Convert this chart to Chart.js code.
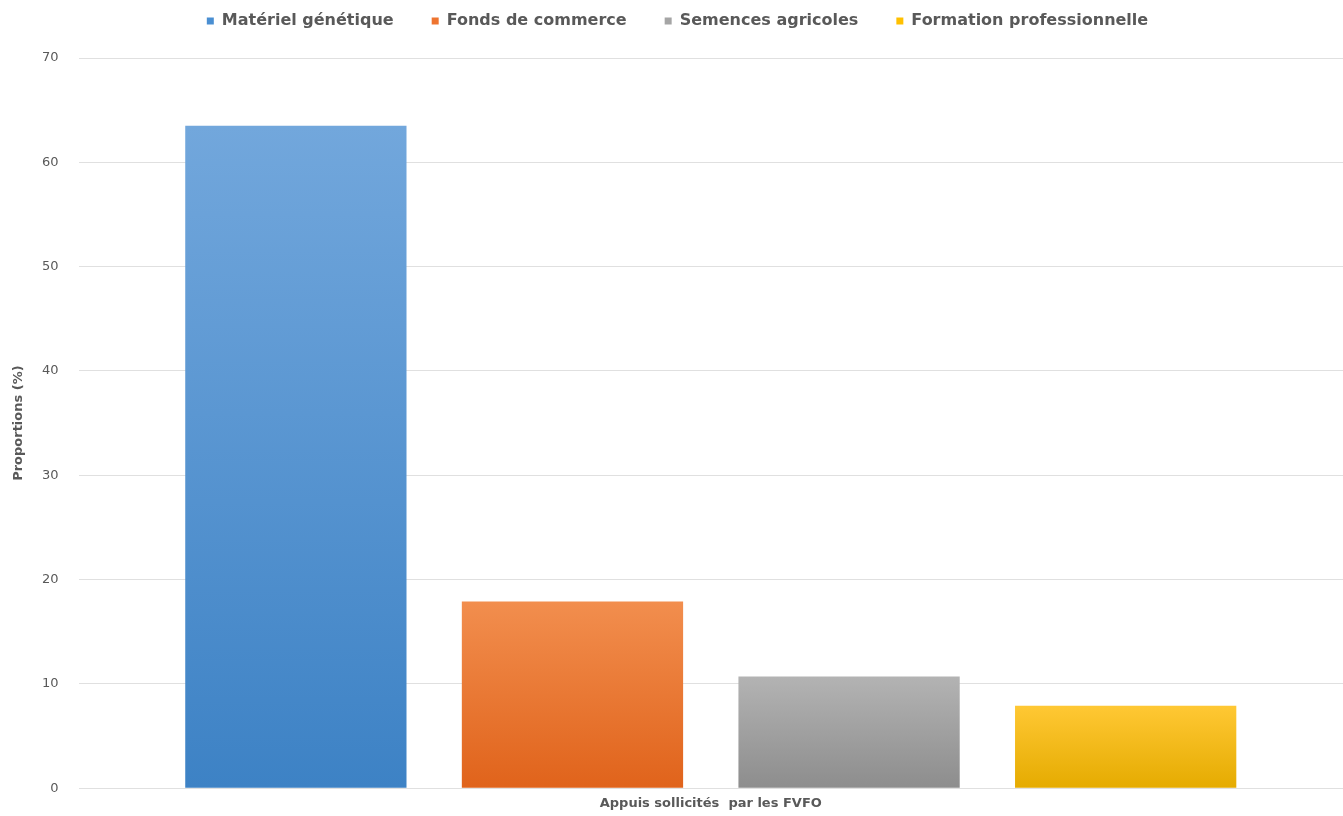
<!DOCTYPE html>
<html>
<head>
<meta charset="utf-8">
<script src="https://cdn.jsdelivr.net/npm/chart.js@4/dist/chart.umd.min.js"></script>
<style>
  html, body { margin: 0; padding: 0; background: #fff; }
  #wrap { width: 1343px; height: 816px; }
</style>
</head>
<body>
<div id="wrap"><canvas id="c"></canvas></div>
<script>
// data
var categories = ['Appuis sollicités  par les FVFO'];
var seriesNames = ['Matériel génétique', 'Fonds de commerce', 'Semences agricoles', 'Formation professionnelle'];
var seriesValues = [63.5, 17.9, 10.7, 7.9];
var yTicks = [0, 10, 20, 30, 40, 50, 60, 70];

// top / bottom colour of each bar gradient
var topColors = ['#72a7dc', '#f28e4e', '#b3b3b3', '#ffc834'];
var bottomColors = ['#3d82c5', '#e0631b', '#8d8d8d', '#e5ab00'];
var legendColors = ['#4a8fd2', '#ee7430', '#a5a5a5', '#ffc000'];

function barFill(i) {
  return function(ctx) {
    var chart = ctx.chart;
    var area = chart.chartArea;
    if (!area) return topColors[i];
    var y = chart.scales.y;
    var top = y.getPixelForValue(seriesValues[i]);
    var bottom = y.getPixelForValue(0);
    var g = chart.ctx.createLinearGradient(0, top, 0, bottom);
    g.addColorStop(0, topColors[i]);
    g.addColorStop(1, bottomColors[i]);
    return g;
  };
}

var datasets = [];
for (var i = 0; i < seriesNames.length; i++) {
  datasets.push({
    label: seriesNames[i],
    data: [seriesValues[i]],
    backgroundColor: barFill(i),
    borderWidth: 0,
    barPercentage: 0.8,
    categoryPercentage: 0.875
  });
}

var grey = '#595959';
var font = 'Tahoma, "DejaVu Sans", sans-serif';

// extra room under the legend
var legendGap = {
  id: 'legendGap',
  beforeInit: function(chart) {
    var fit = chart.legend.fit;
    chart.legend.fit = function() {
      fit.bind(chart.legend)();
      this.height += 19;
    };
  }
};

new Chart(document.getElementById('c'), {
  type: 'bar',
  data: { labels: categories, datasets: datasets },
  plugins: [legendGap],
  options: {
    responsive: true,
    maintainAspectRatio: false,
    animation: false,
    layout: { padding: { left: 12, right: 0, top: -25, bottom: 3 } },
    plugins: {
      tooltip: { enabled: false },
      legend: {
        position: 'top',
        labels: {
          boxWidth: 7,
          boxHeight: 7,
          padding: 38,
          color: grey,
          generateLabels: function(chart) {
            return seriesNames.map(function(n, i) {
              return { text: n, fillStyle: legendColors[i], strokeStyle: legendColors[i], lineWidth: 0, datasetIndex: i, fontColor: grey };
            });
          },
          font: { family: font, size: 16, weight: 'bold' }
        }
      }
    },
    scales: {
      x: {
        grid: { display: false },
        border: { display: false },
        ticks: { display: false },
        title: {
          display: true,
          text: categories[0],
          color: grey,
          padding: { top: 0, bottom: 0 },
          font: { family: font, size: 13, weight: 'bold' }
        }
      },
      y: {
        min: 0,
        max: 70,
        afterBuildTicks: function(axis) {
          axis.ticks = yTicks.map(function(v) { return { value: v }; });
        },
        grid: { color: '#e0e0e0', lineWidth: 1, drawTicks: false },
        border: { display: false },
        ticks: {
          color: grey,
          padding: 20,
          font: { family: font, size: 13 }
        },
        title: {
          display: true,
          text: 'Proportions (%)',
          color: grey,
          padding: { top: 0, bottom: -3 },
          font: { family: font, size: 13, weight: 'bold', lineHeight: 1 }
        }
      }
    }
  }
});
</script>
</body>
</html>
